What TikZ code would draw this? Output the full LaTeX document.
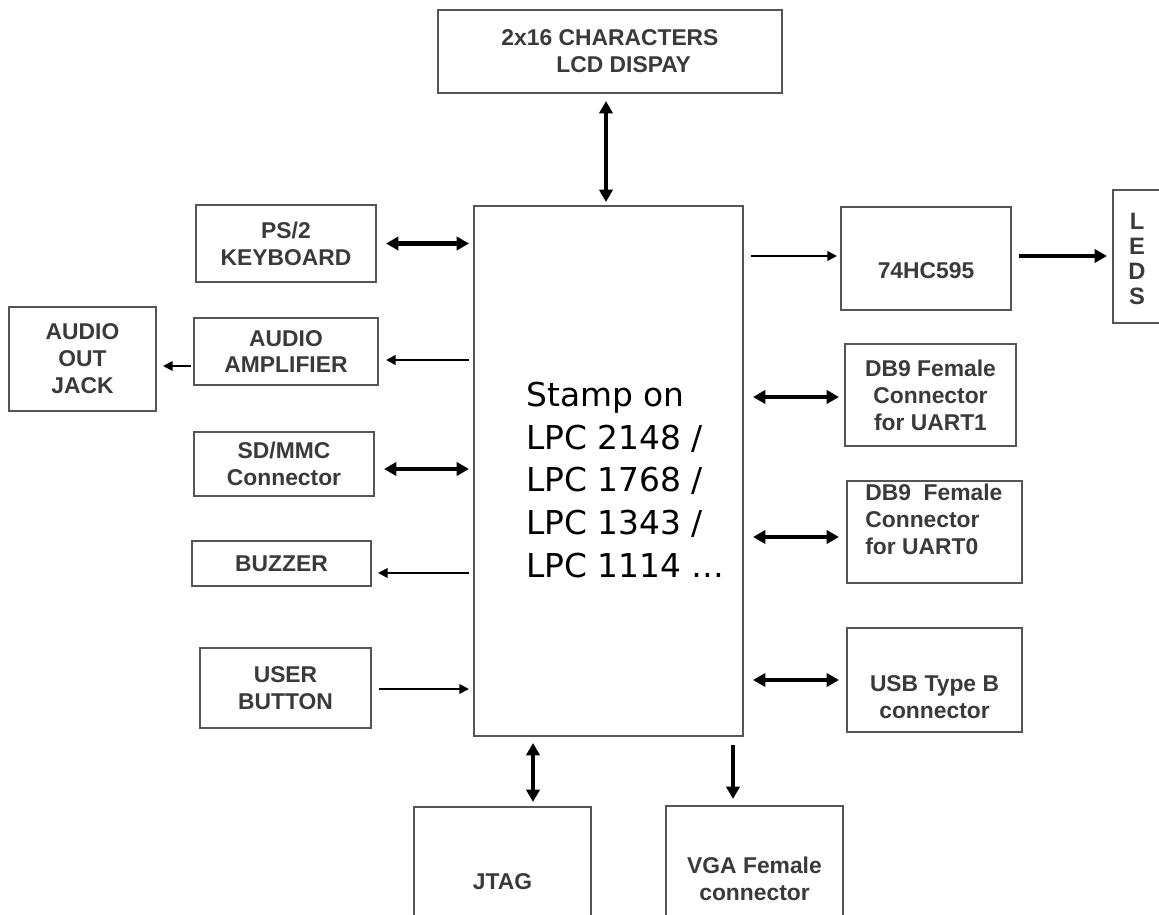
\documentclass[tikz,border=0pt]{standalone}
\usepackage{fontspec}
\setmainfont{Liberation Sans}
\newfontfamily\stampfont{DejaVu Sans}
\usetikzlibrary{arrows.meta,calc}
\definecolor{boxline}{HTML}{555555}
\definecolor{boxtext}{HTML}{3A3A3A}

\begin{document}
\begin{tikzpicture}[x=0.02cm, y=-0.02cm,
  blk/.style={draw=boxline, line width=1.2pt, inner sep=0pt,
    font=\fontsize{13}{15.3}\selectfont\bfseries, text=boxtext, align=center},
  lbl/.style={font=\fontsize{13}{15.3}\selectfont\bfseries, text=boxtext, align=center, inner sep=0pt},
  thk/.style={line width=2.3pt, >={Triangle[length=7pt,width=7.5pt]}},
  thn/.style={line width=1.1pt, >={Triangle[length=5.5pt,width=5.5pt]}}]
  \clip (0,0) rectangle (1159,915);
  \fill[white] (0,0) rectangle (1159,915);

  % controller
  \node[blk, minimum width=5.38cm, minimum height=10.6cm] (main) at (608.5,471) {};
  \node[anchor=west, align=left, inner sep=0pt,
    font=\stampfont\fontsize{18.7}{24.4}\selectfont] (stamp) at (526,480)
    {Stamp on\\LPC 2148 /\\LPC 1768 /\\LPC 1343 /\\LPC 1114 \dots};

  % top
  \node[blk, minimum width=6.88cm, minimum height=1.66cm] (lcd) at (610,51.5)
    {2x16 CHARACTERS\\\hspace*{1.2em}LCD DISPAY};

  % left side
  \node[blk, minimum width=3.6cm, minimum height=1.54cm] (ps2) at (286,243.5) {PS/2\\KEYBOARD};
  \node[blk, minimum width=3.68cm, minimum height=1.34cm] (amp) at (286,351.5) {AUDIO\\AMPLIFIER};
  \node[blk, minimum width=2.94cm, minimum height=2.08cm] (jack) at (82.5,359) {AUDIO\\OUT\\JACK};
  \node[blk, minimum width=3.6cm, minimum height=1.28cm] (sd) at (284,464) {SD/MMC\\Connector};
  \node[blk, minimum width=3.58cm, minimum height=0.9cm] (buz) at (281.5,563.5) {BUZZER};
  \node[blk, minimum width=3.42cm, minimum height=1.6cm] (btn) at (285.5,688) {USER\\BUTTON};

  % right side
  \node[blk, minimum width=3.4cm, minimum height=2.06cm] (hc) at (926,258.5) {};
  \node[lbl] (hctxt) at (926,271) {74HC595};
  \node[blk, minimum width=1.04cm, minimum height=2.66cm] (leds) at (1139,256.5) {};
  \node[lbl, font=\fontsize{13.5}{14.2}\selectfont\bfseries] (ledtxt) at (1137,259) {L\\E\\D\\S};
  \node[blk, minimum width=3.42cm, minimum height=2.04cm] (u1) at (930.5,395)
    {DB9 Female\\Connector\\for UART1};
  \node[blk, minimum width=3.5cm, minimum height=2.04cm] (u0) at (934.5,532) {};
  \node[lbl, anchor=west, align=left] (u0txt) at (865,519) {DB9\ \ Female\\Connector\\for UART0};
  \node[blk, minimum width=3.5cm, minimum height=2.08cm] (usb) at (934.5,680) {};
  \node[lbl] (usbtxt) at (934.5,697) {USB Type B\\connector};

  % bottom
  \node[blk, minimum width=3.54cm, minimum height=2.6cm] (jtag) at (502.5,872) {};
  \node[lbl] (jtagtxt) at (502.5,882) {JTAG};
  \node[blk, minimum width=3.54cm, minimum height=2.6cm] (vga) at (754.5,871) {};
  \node[lbl] (vgatxt) at (754.5,879) {VGA Female\\connector};

  % connectors
  \draw[thk,<->, shorten <=0.14cm, shorten >=0.06cm] (lcd.south -| 606,0) -- (main.north -| 606,0);
  \draw[thk,<->, shorten <=0.18cm, shorten >=0.08cm] (ps2.east) -- (main.west |- ps2.east);
  \draw[thn,->, shorten <=0.08cm, shorten >=0.14cm] (main.west |- 0,360) -- (amp.east |- 0,360);
  \draw[thn,->, shorten <=0.04cm, shorten >=0.12cm] (amp.west |- 0,366) -- (jack.east |- 0,366);
  \draw[thk,<->, shorten <=0.18cm, shorten >=0.08cm] (sd.east |- 0,469) -- (main.west |- 0,469);
  \draw[thn,->, shorten <=0.08cm, shorten >=0.12cm] (main.west |- 0,573) -- (buz.east |- 0,573);
  \draw[thn,->, shorten <=0.14cm, shorten >=0.08cm] (btn.east |- 0,689) -- (main.west |- 0,689);
  \draw[thn,->, shorten <=0.14cm, shorten >=0.06cm] (main.east |- 0,256) -- (hc.west |- 0,256);
  \draw[thk,->, shorten <=0.14cm, shorten >=0.1cm] (hc.east |- 0,256) -- (leds.west |- 0,256);
  \draw[thk,<->, shorten <=0.18cm, shorten >=0.1cm] (main.east |- 0,397) -- (u1.west |- 0,397);
  \draw[thk,<->, shorten <=0.18cm, shorten >=0.14cm] (main.east |- 0,537) -- (u0.west |- 0,537);
  \draw[thk,<->, shorten <=0.18cm, shorten >=0.14cm] (main.east |- 0,680) -- (usb.west |- 0,680);
  \draw[thk,<->, shorten <=0.12cm, shorten >=0.08cm] (main.south -| 533,0) -- (jtag.north -| 533,0);
  \draw[thk,->, shorten <=0.16cm, shorten >=0.12cm] (main.south -| 733,0) -- (vga.north -| 733,0);
\end{tikzpicture}
\end{document}
